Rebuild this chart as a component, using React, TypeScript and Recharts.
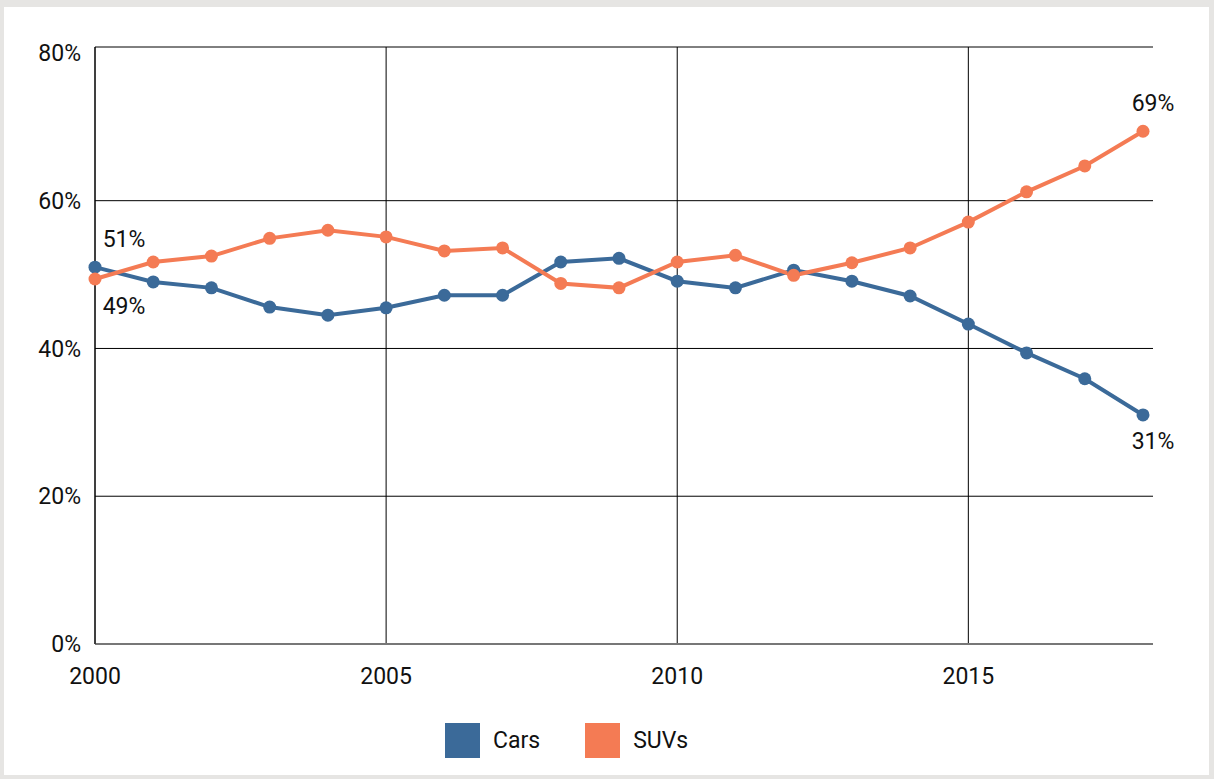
import { LineChart, Line, XAxis, YAxis, CartesianGrid } from "recharts";

const years = [2000, 2001, 2002, 2003, 2004, 2005, 2006, 2007, 2008, 2009, 2010, 2011, 2012, 2013, 2014, 2015, 2016, 2017, 2018];
const cars = [51.0, 49.0, 48.2, 45.6, 44.5, 45.5, 47.2, 47.2, 51.7, 52.2, 49.1, 48.2, 50.6, 49.1, 47.1, 43.3, 39.4, 35.9, 31.0];
const suvs = [49.4, 51.7, 52.5, 54.9, 56.0, 55.1, 53.2, 53.6, 48.8, 48.2, 51.7, 52.6, 49.9, 51.6, 53.6, 57.1, 61.2, 64.7, 69.4];
const xTicks = [2000, 2005, 2010, 2015];
const yTicks = [0, 20, 40, 60, 80];
const yMax = 80.8;
const gridRows = [0, 20, 40, 60, yMax];

const BLUE = "#3b6a99";
const ORANGE = "#f47b54";
const FONT = "Roboto, sans-serif";

const data = years.map((y, i) => ({ year: y, cars: cars[i], suvs: suvs[i] }));
const lastIdx = years.length - 1;

// end labels: first and last point of each series
const makeLabel = (above0: boolean, aboveLast: boolean) => (props: any) => {
  const { x, y, value, index } = props;
  if (index !== 0 && index !== lastIdx) return null;
  const above = index === 0 ? above0 : aboveLast;
  const dx = index === 0 ? 29 : 10;
  return (
    <text
      key={"l" + index}
      x={x + dx}
      y={y + (above ? -28 : 27)}
      textAnchor="middle"
      dominantBaseline="central"
      fontSize={23}
      fontFamily={FONT}
      fill="#111"
    >
      {Math.round(value)}%
    </text>
  );
};

const legendItems = [
  { name: "Cars", color: BLUE },
  { name: "SUVs", color: ORANGE },
];

export default function App() {
  return (
    <div style={{ position: "absolute", left: 0, top: 0, width: 1214, height: 779, background: "#e6e5e3" }}>
      <div style={{ position: "absolute", left: 4, top: 7, width: 1205, height: 768, background: "#fff" }} />
      <div style={{ position: "absolute", left: 0, top: 0 }}>
        <LineChart width={1214} height={779} data={data} margin={{ top: 47, right: 61, left: 0, bottom: 95 }}>
          <CartesianGrid stroke="#000" strokeWidth={1} horizontalValues={gridRows} verticalValues={xTicks} />
          <XAxis
            dataKey="year"
            type="number"
            domain={[2000, 2018]}
            ticks={xTicks}
            padding={{ left: 0, right: 10 }}
            height={40}
            tickLine={false}
            tickSize={0}
            tickMargin={24}
            axisLine={{ stroke: "#777", strokeWidth: 2 }}
            tick={{ fontSize: 23, fontFamily: FONT, fill: "#111" }}
          />
          <YAxis
            type="number"
            domain={[0, yMax]}
            ticks={yTicks}
            width={95}
            tickLine={false}
            tickSize={0}
            tickMargin={14}
            axisLine={{ stroke: "#000" }}
            tickFormatter={(v: number) => v + "%"}
            tick={{ fontSize: 23, fontFamily: FONT, fill: "#111" }}
          />
          <Line
            dataKey="cars"
            stroke={BLUE}
            strokeWidth={4}
            dot={{ r: 6.5, fill: BLUE, stroke: "none" }}
            activeDot={false}
            isAnimationActive={false}
            label={makeLabel(true, false)}
          />
          <Line
            dataKey="suvs"
            stroke={ORANGE}
            strokeWidth={4}
            dot={{ r: 6.5, fill: ORANGE, stroke: "none" }}
            activeDot={false}
            isAnimationActive={false}
            label={makeLabel(false, true)}
          />
        </LineChart>
      </div>
      <div style={{ position: "absolute", left: 445, top: 723, display: "flex", alignItems: "center", fontFamily: FONT, fontSize: 23, color: "#111" }}>
        {legendItems.map((it) => (
          <div key={it.name} style={{ display: "flex", alignItems: "center", marginRight: 45 }}>
            <div style={{ width: 35, height: 35, background: it.color, marginRight: 13 }} />
            <span>{it.name}</span>
          </div>
        ))}
      </div>
    </div>
  );
}
